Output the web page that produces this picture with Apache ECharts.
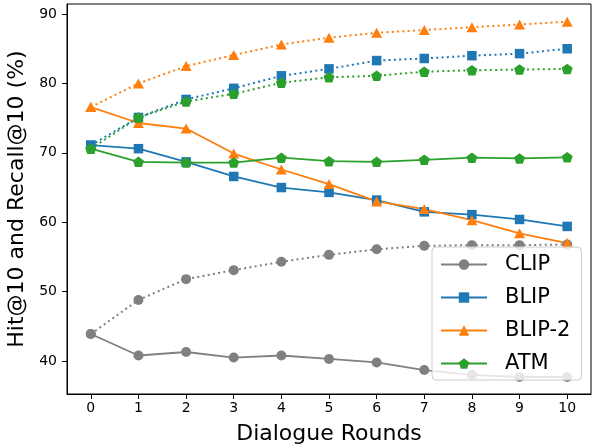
<!DOCTYPE html>
<html>
<head>
<meta charset="utf-8">
<script src="https://cdn.jsdelivr.net/npm/echarts@6/dist/echarts.min.js"></script>
<style>html,body{margin:0;padding:0;background:#fff;}#c{width:592px;height:445px;}</style>
</head>
<body>
<div id="c"></div>
<script>
var rounds = ['0','1','2','3','4','5','6','7','8','9','10'];
var yTicks = [40, 50, 60, 70, 80, 90];
var clipSolid   = [43.9, 40.8, 41.3, 40.5, 40.8, 40.3, 39.8, 38.7, 38.0, 37.7, 37.7];
var clipDotted  = [43.9, 48.8, 51.8, 53.1, 54.3, 55.3, 56.1, 56.6, 56.7, 56.7, 56.8];
var blipSolid   = [71.1, 70.6, 68.7, 66.6, 65.0, 64.3, 63.2, 61.5, 61.1, 60.4, 59.4];
var blipDotted  = [71.1, 75.1, 77.7, 79.3, 81.1, 82.1, 83.3, 83.6, 84.0, 84.3, 85.0];
var blip2Solid  = [76.6, 74.3, 73.5, 69.9, 67.6, 65.5, 63.0, 61.9, 60.3, 58.4, 57.0];
var blip2Dotted = [76.6, 80.0, 82.5, 84.1, 85.6, 86.6, 87.3, 87.7, 88.1, 88.5, 88.9];
var atmSolid    = [70.6, 68.7, 68.6, 68.6, 69.3, 68.8, 68.7, 69.0, 69.3, 69.2, 69.35];
var atmDotted   = [70.6, 75.1, 77.4, 78.5, 80.1, 80.9, 81.1, 81.7, 81.9, 82.0, 82.1];

var FONT = 'DejaVu Sans';
var pentagon = 'path://M0,-1 L0.951,-0.309 L0.588,0.809 L-0.588,0.809 L-0.951,-0.309 Z';
var models = [
  {name: 'CLIP',   color: '#808080', symbol: 'circle',   size: 10,   solid: clipSolid,  dotted: clipDotted},
  {name: 'BLIP',   color: '#1f77b4', symbol: 'rect',     size: 9.5,  solid: blipSolid,  dotted: blipDotted},
  {name: 'BLIP-2', color: '#ff7f0e', symbol: 'triangle', size: [11, 10], solid: blip2Solid, dotted: blip2Dotted},
  {name: 'ATM',    color: '#2ca02c', symbol: pentagon,   size: [11, 10.5], solid: atmSolid, dotted: atmDotted}
];
var series = [];
models.forEach(function (m) {
  series.push({
    name: m.name, type: 'line', data: m.solid,
    symbol: m.symbol, symbolSize: m.size, showAllSymbol: true,
    itemStyle: {color: m.color},
    lineStyle: {color: m.color, width: 1.8, type: 'solid'}
  });
  series.push({
    name: m.name + ' (dotted)', type: 'line', data: m.dotted,
    symbol: m.symbol, symbolSize: m.size, showAllSymbol: true,
    itemStyle: {color: m.color},
    lineStyle: {color: m.color, width: 2, type: [2, 3.3]}
  });
});

var chart = echarts.init(document.getElementById('c'), null, {renderer: 'canvas'});
chart.setOption({
  animation: false,
  backgroundColor: '#fff',
  textStyle: {fontFamily: FONT},
  grid: {left: 67, right: 1, top: 4, bottom: 51, containLabel: false, outerBoundsMode: 'none',
         show: true, borderColor: '#000', borderWidth: 1, backgroundColor: 'transparent'},
  legend: {
    data: models.map(function (m) { return m.name; }),
    orient: 'vertical', left: 432, top: 247,
    itemWidth: 46, itemHeight: 13, itemGap: 12,
    padding: [7, 11, 6, 8],
    backgroundColor: 'rgba(255,255,255,0.8)',
    borderColor: '#cccccc', borderWidth: 1, borderRadius: 4,
    textStyle: {fontFamily: FONT, fontSize: 21, color: '#000', padding: [0, 0, 0, 13]}
  },
  xAxis: {
    type: 'category', data: rounds, boundaryGap: true,
    name: 'Dialogue Rounds', nameLocation: 'middle', nameGap: 29,
    nameTextStyle: {fontFamily: FONT, fontSize: 22, color: '#000'},
    axisLine: {show: true, lineStyle: {color: '#000', width: 1}},
    axisTick: {show: true, alignWithLabel: true, length: 5, lineStyle: {color: '#000', width: 1}},
    axisLabel: {fontFamily: FONT, fontSize: 14, color: '#000', margin: 7},
    splitLine: {show: false}
  },
  yAxis: {
    type: 'value', min: 35.25, max: 91.45,
    name: 'Hit@10 and Recall@10 (%)', nameLocation: 'middle', nameGap: 35,
    nameTextStyle: {fontFamily: FONT, fontSize: 22, color: '#000'},
    axisLine: {show: true, lineStyle: {color: '#000', width: 1}},
    axisTick: {show: true, length: 5, lineStyle: {color: '#000', width: 1}, customValues: yTicks},
    axisLabel: {fontFamily: FONT, fontSize: 14, color: '#000', margin: 10, customValues: yTicks},
    splitLine: {show: false}
  },
  series: series
});
</script>
</body>
</html>
